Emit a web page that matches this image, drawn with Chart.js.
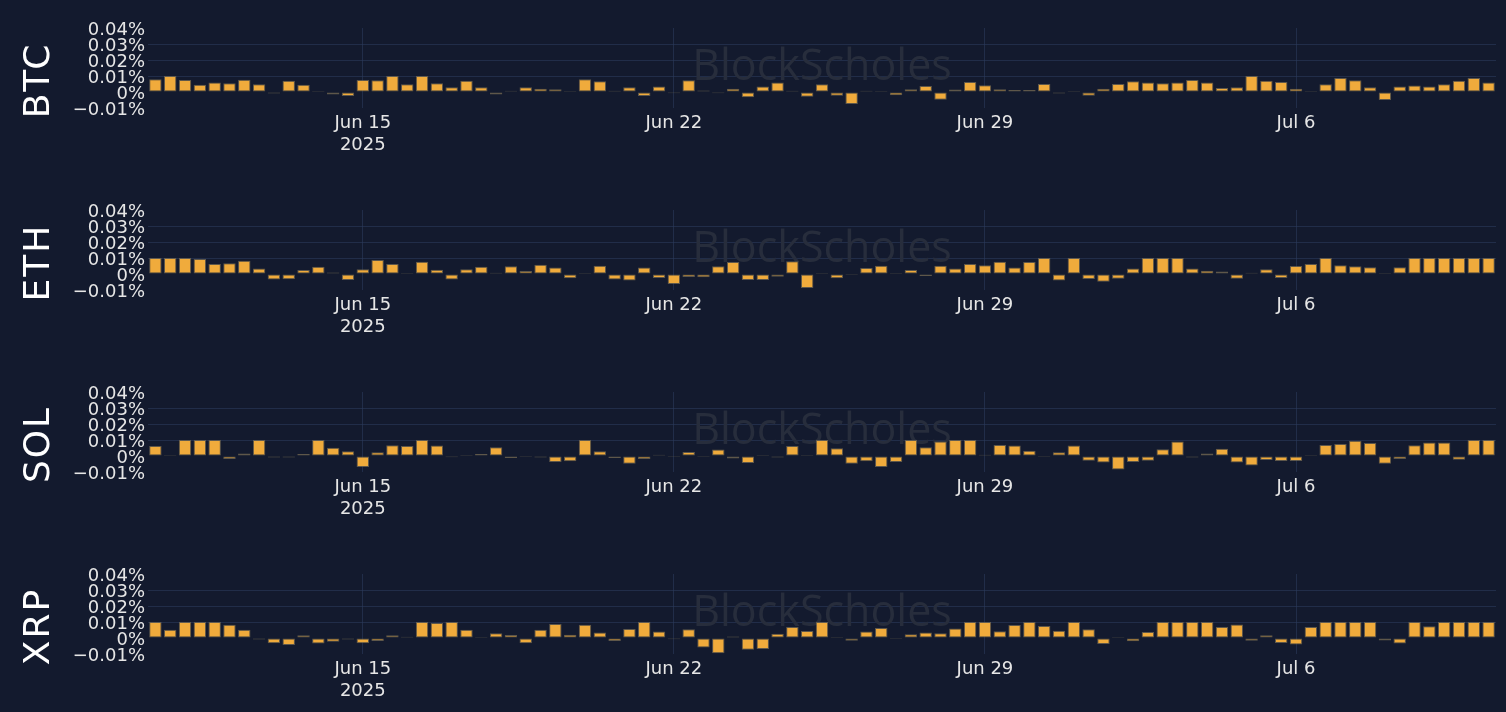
<!DOCTYPE html>
<html>
<head>
<meta charset="utf-8">
<title>Funding rates</title>
<script src="https://cdn.jsdelivr.net/npm/chart.js@4.4.1/dist/chart.umd.min.js"></script>
<style>
  html, body { margin: 0; padding: 0; background: #131a2e; overflow: hidden; }
  canvas { position: absolute; left: 0; display: block; }
</style>
</head>
<body>
<canvas id="btc" width="1506" height="182" style="top:0px"></canvas>
<canvas id="eth" width="1506" height="182" style="top:182px"></canvas>
<canvas id="sol" width="1506" height="182" style="top:364px"></canvas>
<canvas id="xrp" width="1506" height="182" style="top:546px"></canvas>
<script>
// 8-hourly funding rates, values in percent (0.01 = 0.01%)
// x is counted in days since Jun 1 2025; first bar is Jun 10 08:00
const firstBarDay = 28 / 3;
const barsPerDay = 3;
const tickDays = [14, 21, 28, 35];
const tickLabels = [['Jun 15', '2025'], 'Jun 22', 'Jun 29', 'Jul 6'];
const yTicks = [-0.01, 0, 0.01, 0.02, 0.03, 0.04];

const btcRates = [
  0.008, 0.01, 0.0075, 0.0046, 0.006, 0.0055, 0.0077, 0.0048, -0.001, 0.007,
  0.0045, 0.0005, -0.0015, -0.0025, 0.0075, 0.0073, 0.01, 0.0048, 0.01, 0.0055,
  0.003, 0.007, 0.003, -0.0015, 0.0008, 0.003, 0.002, 0.0017, 0.0004, 0.008,
  0.0067, 0.0008, 0.003, -0.0025, 0.0035, -0.0008, 0.0073, 0.001, -0.0008, 0.002,
  -0.0033, 0.0035, 0.006, 0.0008, -0.003, 0.0048, -0.0023, -0.0075, 0.0008, 0.0002,
  -0.002, 0.0017, 0.0037, -0.0048, 0.0015, 0.0062, 0.0042, 0.0017, 0.0012, 0.0012,
  0.005, -0.001, 0.0001, -0.0023, 0.002, 0.005, 0.0067, 0.006, 0.0055, 0.006,
  0.0075, 0.006, 0.0025, 0.003, 0.01, 0.007, 0.0062, 0.002, 0.0002, 0.0048,
  0.0088, 0.0073, 0.003, -0.005, 0.0035, 0.004, 0.0035, 0.0048, 0.007, 0.0088, 0.006
];
const ethRates = [
  0.01, 0.01, 0.01, 0.0094, 0.0063, 0.0067, 0.0083, 0.0035, -0.0035, -0.0033,
  0.0025, 0.0046, 0.001, -0.0037, 0.003, 0.0088, 0.0063, 0.0002, 0.0077, 0.0027,
  -0.0035, 0.003, 0.0046, 0.0008, 0.0048, 0.0019, 0.0058, 0.004, -0.0027, 0.0001,
  0.0052, -0.0035, -0.004, 0.004, -0.0025, -0.0062, -0.0019, -0.002, 0.0048, 0.0075,
  -0.0037, -0.0037, -0.0017, 0.008, -0.0088, 0.0001, -0.0027, -0.0006, 0.0038, 0.0052,
  0.0001, 0.0025, -0.0012, 0.0052, 0.0035, 0.0063, 0.0054, 0.0077, 0.004, 0.0075,
  0.01, -0.004, 0.01, -0.0031, -0.0048, -0.0029, 0.0035, 0.01, 0.01, 0.01,
  0.0035, 0.0021, 0.0015, -0.003, 0.0008, 0.003, -0.0025, 0.005, 0.0063, 0.01,
  0.0054, 0.0048, 0.0042, 0.0001, 0.0042, 0.01, 0.01, 0.01, 0.01, 0.01, 0.01
];
const solRates = [
  0.0063, 0.0001, 0.01, 0.01, 0.01, -0.0019, 0.0015, 0.01, -0.001, -0.001,
  0.0012, 0.01, 0.0052, 0.003, -0.0069, 0.0023, 0.0067, 0.0063, 0.01, 0.0065,
  -0.0008, 0.0001, 0.0012, 0.0054, -0.0012, -0.0006, -0.001, -0.0037, -0.0033, 0.01,
  0.003, -0.0012, -0.0048, -0.0019, 0.0008, -0.0006, 0.0025, -0.0006, 0.004, -0.0015,
  -0.0044, 0.0004, -0.001, 0.0063, 0.0006, 0.01, 0.0048, -0.0048, -0.0033, -0.0069,
  -0.0037, 0.01, 0.0054, 0.009, 0.01, 0.01, 0.0008, 0.0069, 0.0065, 0.0033,
  -0.0004, 0.0023, 0.0065, -0.0029, -0.004, -0.0085, -0.0037, -0.0029, 0.0042, 0.009,
  -0.001, 0.0015, 0.0046, -0.004, -0.006, -0.0025, -0.0031, -0.0031, 0.0006, 0.0069,
  0.0075, 0.0096, 0.0081, -0.0048, -0.0019, 0.0067, 0.0085, 0.0085, -0.0023, 0.01, 0.01
];
const xrpRates = [
  0.01, 0.0052, 0.01, 0.01, 0.01, 0.0083, 0.0052, -0.001, -0.0033, -0.0044,
  0.0017, -0.0035, -0.0023, -0.001, -0.0033, -0.0019, 0.0017, 0.0008, 0.01, 0.0094,
  0.01, 0.0052, 0.0001, 0.003, 0.0019, -0.0033, 0.0052, 0.0088, 0.0021, 0.0083,
  0.0035, -0.0019, 0.0056, 0.01, 0.004, -0.0008, 0.0054, -0.006, -0.0096, 0.001,
  -0.0073, -0.0069, 0.0027, 0.0069, 0.0044, 0.01, 0.0001, -0.0017, 0.004, 0.0063,
  -0.0004, 0.0023, 0.0035, 0.003, 0.006, 0.01, 0.01, 0.0042, 0.0081, 0.01,
  0.0075, 0.0046, 0.01, 0.0054, -0.0037, 0.0004, -0.002, 0.0037, 0.01, 0.01,
  0.01, 0.01, 0.0069, 0.0085, -0.0017, 0.0017, -0.0031, -0.004, 0.0069, 0.01,
  0.01, 0.01, 0.01, -0.0015, -0.0035, 0.01, 0.0073, 0.01, 0.01, 0.01, 0.01
];

const bgColor = '#131a2e';
const barColor = '#f0ab3c';
const gridColor = 'rgba(44, 58, 92, 0.6)';
const textColor = '#e6e6e6';

// background, watermark and the rotated coin name
const panelDecor = {
  id: 'panelDecor',
  beforeDraw(chart) {
    const ctx = chart.ctx;
    ctx.save();
    ctx.fillStyle = bgColor;
    ctx.fillRect(0, 0, chart.width, chart.height);
    ctx.restore();
  },
  beforeDatasetsDraw(chart, args, opts) {
    const { ctx, chartArea } = chart;
    ctx.save();
    ctx.font = '43px "Open Sans"';
    ctx.fillStyle = '#272d3c';
    ctx.textAlign = 'center';
    ctx.textBaseline = 'middle';
    ctx.fillText('BlockScholes', (chartArea.left + chartArea.right) / 2, (chartArea.top + chartArea.bottom) / 2);

    ctx.translate(40, chartArea.top + 52.5);
    ctx.rotate(-Math.PI / 2);
    ctx.font = '36px "DejaVu Sans"';
    ctx.letterSpacing = '2px';
    ctx.fillStyle = '#ffffff';
    ctx.fillText(opts.title, 0, 0);
    ctx.restore();
  }
};

function fmtPct(v) {
  const r = Math.round(v * 100) / 100;
  if (r === 0) return '0%';
  return (r < 0 ? '\u2212' : '') + Math.abs(r) + '%';
}

function makeChart(id, title, rates) {
  const points = rates.map((v, i) => ({ x: firstBarDay + i / barsPerDay, y: v }));
  return new Chart(document.getElementById(id), {
    type: 'bar',
    data: {
      datasets: [{
        data: points,
        backgroundColor: barColor,
        borderColor: 'rgba(120, 108, 84, 0.75)',
        borderWidth: 1,
        borderSkipped: false,
        barPercentage: 0.84,
        categoryPercentage: 1,
        minBarLength: 1
      }]
    },
    options: {
      responsive: false,
      animation: false,
      layout: { padding: { left: 0, right: 10, top: 28, bottom: 0 } },
      plugins: {
        legend: { display: false },
        tooltip: { enabled: false },
        panelDecor: { title: title }
      },
      scales: {
        x: {
          type: 'linear',
          min: firstBarDay - 1 / 6,
          max: firstBarDay + (rates.length - 1) / barsPerDay + 1 / 6,
          offset: false,
          afterBuildTicks: s => { s.ticks = tickDays.map(v => ({ value: v })); },
          afterFit: s => { s.height = 74; },
          ticks: {
            color: textColor,
            font: { family: 'DejaVu Sans', size: 18, lineHeight: 1.22 },
            padding: 4,
            maxRotation: 0,
            autoSkip: false,
            callback: (v, i) => tickLabels[i]
          },
          grid: { color: gridColor, drawTicks: false, offset: false },
          border: { display: false }
        },
        y: {
          min: yTicks[0],
          max: yTicks[yTicks.length - 1],
          afterBuildTicks: s => { s.ticks = yTicks.map(v => ({ value: v })); },
          afterFit: s => { s.width = 148; },
          ticks: {
            color: textColor,
            font: { family: 'DejaVu Sans', size: 18, lineHeight: 1 },
            padding: 3,
            labelOffset: 2,
            autoSkip: false,
            callback: v => fmtPct(v)
          },
          grid: {
            color: c => (c.tick && c.tick.value > 0.005 && c.tick.value < 0.035) ? gridColor : 'rgba(0,0,0,0)',
            drawTicks: false
          },
          border: { display: false }
        }
      }
    },
    plugins: [panelDecor]
  });
}

makeChart('btc', 'BTC', btcRates);
makeChart('eth', 'ETH', ethRates);
makeChart('sol', 'SOL', solRates);
makeChart('xrp', 'XRP', xrpRates);
</script>
</body>
</html>
